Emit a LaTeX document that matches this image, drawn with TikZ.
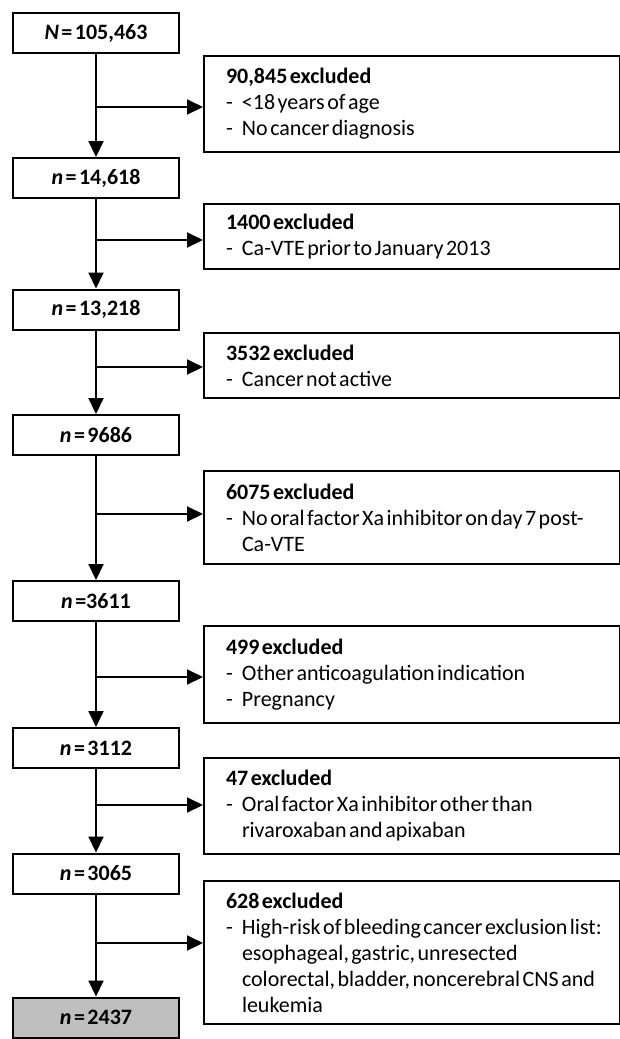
\documentclass[tikz,border=0pt]{standalone}
\usepackage{fontspec}
\setmainfont{Carlito}[WordSpace=0.5]
\usetikzlibrary{arrows.meta}

\newcommand{\exclhead}[1]{\leftskip=10pt\spaceskip=0pt\xspaceskip=0pt\textbf{#1}}
\newcommand{\exclitem}[1]{\par\hangindent=8pt\hangafter=1\makebox[8pt][l]{-}#1\par}
\newcommand{\brk}{\hfil\break}

\begin{document}
\begin{tikzpicture}[x=0.5pt, y=-0.5pt, line width=1pt, >={Triangle[length=8pt,width=7.5pt]},
	cnt/.style={draw, minimum width=83pt, minimum height=20pt, inner sep=0pt, font=\fontsize{11}{13}\selectfont\bfseries},
	excl/.style={draw, anchor=north west, text width=206pt, inner xsep=1pt, inner ysep=0pt, align=left, font=\fontsize{11}{13}\selectfont}]
	\useasboundingbox (0,0) rectangle (620,1039);
	% cohort after each step
	\node[cnt] (c0) at (96,33) {\textit{N} = 105,463};
	\node[cnt] (c1) at (96,178) {\textit{n} = 14,618};
	\node[cnt] (c2) at (96,309.5) {\textit{n} = 13,218};
	\node[cnt] (c3) at (96,435) {\textit{n} = 9686};
	\node[cnt] (c4) at (96,601) {\textit{n} =3611};
	\node[cnt] (c5) at (96,748) {\textit{n} = 3112};
	\node[cnt] (c6) at (96,873.5) {\textit{n} = 3065};
	\node[cnt, fill=black!25] (c7) at (96,1017.5) {\textit{n} = 2437};
	% exclusions
	\node[excl, minimum height=48pt] (e1) at (203,55) {\exclhead{90,845 excluded}\exclitem{<18 years of age}\exclitem{No cancer diagnosis}};
	\node[excl, minimum height=32.5pt] (e2) at (203,203) {\exclhead{1400 excluded}\exclitem{Ca-VTE prior to January 2013}};
	\node[excl, minimum height=32.5pt] (e3) at (203,332) {\exclhead{3532 excluded}\exclitem{Cancer not active}};
	\node[excl, minimum height=46.5pt] (e4) at (203,470) {\exclhead{6075 excluded}\exclitem{No oral factor Xa inhibitor on day 7 post-\brk Ca-VTE}};
	\node[excl, minimum height=48.5pt] (e5) at (203,625) {\exclhead{499 excluded}\exclitem{Other anticoagulation indication}\exclitem{Pregnancy}};
	\node[excl, minimum height=48pt] (e6) at (203,757) {\exclhead{47 excluded}\exclitem{Oral factor Xa inhibitor other than\brk rivaroxaban and apixaban}};
	\node[excl, minimum height=71.5pt] (e7) at (203,880) {\exclhead{628 excluded}\exclitem{High-risk of bleeding cancer exclusion list:\brk esophageal, gastric, unresected\brk colorectal, bladder, noncerebral CNS and\brk leukemia}};
	% branch points on the main line
	\coordinate (j1) at (96,107); \coordinate (j2) at (96,240); \coordinate (j3) at (96,367);
	\coordinate (j4) at (96,514); \coordinate (j5) at (96,677); \coordinate (j6) at (96,805);
	\coordinate (j7) at (96,943);
	\draw[->] (c0) -- (c1); \draw[->] (c1) -- (c2); \draw[->] (c2) -- (c3); \draw[->] (c3) -- (c4);
	\draw[->] (c4) -- (c5); \draw[->] (c5) -- (c6); \draw[->] (c6) -- (c7);
	\draw[->] (j1) -- (j1 -| e1.west); \draw[->] (j2) -- (j2 -| e2.west);
	\draw[->] (j3) -- (j3 -| e3.west); \draw[->] (j4) -- (j4 -| e4.west);
	\draw[->] (j5) -- (j5 -| e5.west); \draw[->] (j6) -- (j6 -| e6.west);
	\draw[->] (j7) -- (j7 -| e7.west);
\end{tikzpicture}
\end{document}
